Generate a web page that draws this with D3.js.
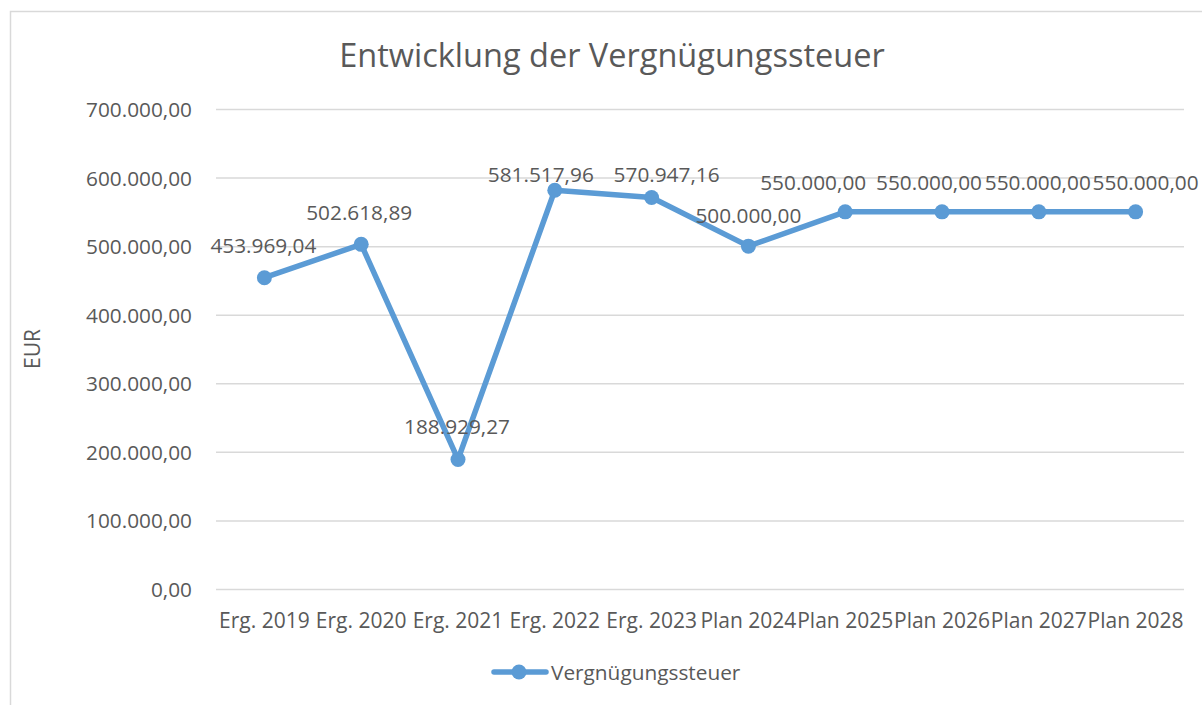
<!DOCTYPE html>
<html>
<head>
<meta charset="utf-8">
<script src="https://cdn.jsdelivr.net/npm/d3@7"></script>
<style>
  html, body { margin: 0; padding: 0; background: #fff; }
  svg { display: block; }
  text { font-family: "Open Sans", "Noto Sans", sans-serif; fill: #595959; }
</style>
</head>
<body>
<script>
// ---- data ----
const title = "Entwicklung der Vergnügungssteuer";
const yAxisTitle = "EUR";
const seriesName = "Vergnügungssteuer";
const categories = ["Erg. 2019", "Erg. 2020", "Erg. 2021", "Erg. 2022", "Erg. 2023",
                    "Plan 2024", "Plan 2025", "Plan 2026", "Plan 2027", "Plan 2028"];
const values = [453969.04, 502618.89, 188929.27, 581517.96, 570947.16,
                500000.00, 550000.00, 550000.00, 550000.00, 550000.00];
const yTicks = [0, 100000, 200000, 300000, 400000, 500000, 600000, 700000];

// label nudges (layout only)
const labelDx = [-1, -2, -1, -14, 15, 0, -32, -13, -1, 10];
const labelDy = [-25, -24, -25, -8, -15, -23, -22, -22, -22, -22];

const W = 1202, H = 705;
const plot = { left: 216, right: 1184, top: 109, bottom: 589 };
const color = "#5b9bd5";

const fmt = v => {
  const s = v.toFixed(2).split(".");
  return s[0].replace(/\B(?=(\d{3})+(?!\d))/g, ".") + "," + s[1];
};

const svg = d3.select("body").append("svg").attr("width", W).attr("height", H);

// chart border
svg.append("rect").attr("x", 10.5).attr("y", 11.5).attr("width", 1210).attr("height", 710)
  .attr("fill", "none").attr("stroke", "#d9d9d9").attr("stroke-width", 1.5);

const x = d3.scaleBand().domain(categories).range([plot.left, plot.right]);
const y = d3.scaleLinear().domain([0, 700000]).range([plot.bottom, plot.top]);

// title
svg.append("text").attr("x", 612).attr("y", 67).attr("text-anchor", "middle")
  .style("font-size", "32.5px").text(title);

// gridlines
const yAxis = d3.axisLeft(y).tickValues(yTicks).tickFormat(fmt)
  .tickSize(-(plot.right - plot.left)).tickPadding(24);
const gy = svg.append("g").attr("transform", `translate(${plot.left},0)`).call(yAxis);
gy.select(".domain").remove();
gy.selectAll(".tick line").attr("stroke", "#d9d9d9").attr("stroke-width", 1.5);
gy.selectAll(".tick text").style("font-size", "20.8px").attr("fill", "#595959")
  .attr("dy", "0.36em");

// x axis labels
const xAxis = d3.axisBottom(x).tickSize(0).tickPadding(0);
const gx = svg.append("g").attr("transform", `translate(0,${plot.bottom})`).call(xAxis);
gx.select(".domain").remove();
gx.selectAll(".tick text").style("font-size", "21px").attr("fill", "#595959")
  .attr("y", 39).attr("dy", 0);

// y axis title
svg.append("text").attr("transform", `translate(40,349) rotate(-90)`)
  .attr("text-anchor", "middle").style("font-size", "21px").text(yAxisTitle);

// line
const pts = categories.map((c, i) => ({ c, v: values[i], i }));
const cx = d => x(d.c) + x.bandwidth() / 2;
svg.append("path").datum(pts)
  .attr("d", d3.line().x(cx).y(d => y(d.v)))
  .attr("fill", "none").attr("stroke", color).attr("stroke-width", 5.5)
  .attr("stroke-linejoin", "round").attr("stroke-linecap", "round");

svg.selectAll("circle.pt").data(pts).enter().append("circle").attr("class", "pt")
  .attr("cx", cx).attr("cy", d => y(d.v)).attr("r", 7.5).attr("fill", color);

// data labels
svg.selectAll("text.lbl").data(pts).enter().append("text").attr("class", "lbl")
  .attr("x", d => cx(d) + labelDx[d.i]).attr("y", d => y(d.v) + labelDy[d.i])
  .attr("text-anchor", "middle").style("font-size", "20.8px").text(d => fmt(d.v));

// legend
const lg = svg.append("g");
lg.append("line").attr("x1", 494).attr("x2", 546).attr("y1", 672).attr("y2", 672)
  .attr("stroke", color).attr("stroke-width", 5.5).attr("stroke-linecap", "round");
lg.append("circle").attr("cx", 519).attr("cy", 672).attr("r", 7.5).attr("fill", color);
lg.append("text").attr("x", 551).attr("y", 680).style("font-size", "20.8px").text(seriesName);
</script>
</body>
</html>
